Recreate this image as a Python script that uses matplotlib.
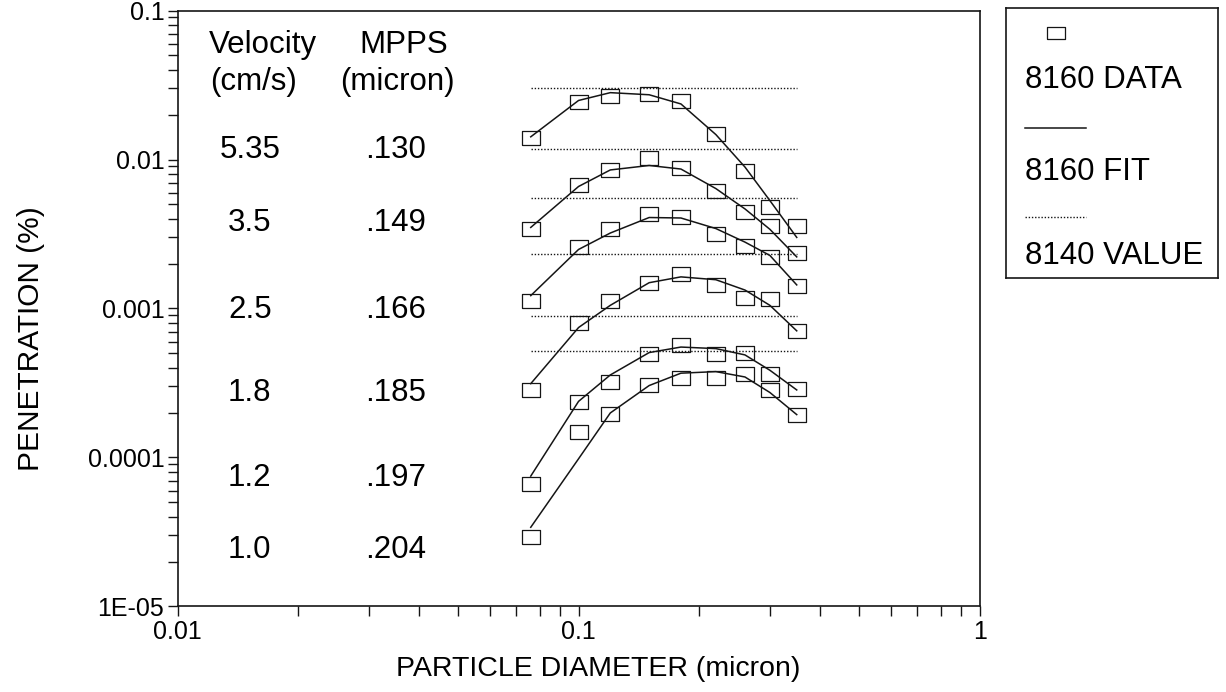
import matplotlib
matplotlib.use('Agg')
import matplotlib.pyplot as plt
from matplotlib.ticker import LogLocator, NullFormatter, FixedLocator, FixedFormatter

plt.rcParams['font.family'] = ['Liberation Sans', 'DejaVu Sans']

# ---------------- data ----------------
diam = [0.076, 0.10, 0.12, 0.15, 0.18, 0.22, 0.26, 0.30, 0.35]

pen_535 = [0.0140, 0.0245, 0.0267, 0.0277, 0.0247, 0.0149, 0.0084, 0.0048, 0.0036]
fit_535 = [0.0142, 0.0249, 0.0281, 0.0272, 0.0236, 0.0147, 0.0089, 0.0053, 0.0030]
pen_35 = [0.00344, 0.00679, 0.00851, 0.0102, 0.00877, 0.0061, 0.00445, 0.00356, 0.00237]
fit_35 = [0.0035, 0.00659, 0.00851, 0.00912, 0.00863, 0.00638, 0.00466, 0.0034, 0.00222]
pen_25 = [0.00113, 0.00257, 0.00342, 0.00428, 0.00411, 0.00318, 0.00262, 0.0022, 0.00142]
fit_25 = [0.00122, 0.00249, 0.00321, 0.00408, 0.00405, 0.00344, 0.00279, 0.00227, 0.00144]
pen_18 = [0.000284, 0.000805, 0.00112, 0.00149, 0.0017, 0.00143, 0.00118, 0.00115, 0.000708]
fit_18 = [0.000313, 0.000745, 0.00105, 0.00149, 0.00163, 0.00156, 0.00133, 0.00105, 0.000708]
pen_12 = [6.65e-5, 0.000234, 0.000321, 0.000498, 0.000568, 0.000498, 0.000502, 0.000361, 0.000289]
fit_12 = [7.5e-5, 0.000238, 0.000358, 0.000506, 0.000551, 0.000538, 0.000488, 0.000385, 0.000284]
pen_10 = [2.94e-5, 0.000149, 0.000196, 0.000308, 0.000341, 0.000339, 0.000363, 0.000282, 0.000194]
fit_10 = [3.4e-5, 9.8e-5, 0.000199, 0.000304, 0.000368, 0.000377, 0.000347, 0.000273, 0.000194]
val_8140 = [0.0303, 0.0118, 0.00555, 0.00233, 0.000896, 0.000521]

velocity = ["5.35", "3.5", "2.5", "1.8", "1.2", "1.0"]
mpps = [".130", ".149", ".166", ".185", ".197", ".204"]

x_ticks = [0.01, 0.1, 1]
x_tick_labels = ["0.01", "0.1", "1"]
y_ticks = [1e-5, 1e-4, 1e-3, 1e-2, 1e-1]
y_tick_labels = ["1E-05", "0.0001", "0.001", "0.01", "0.1"]

legend_labels = ["8160 DATA", "8160 FIT", "8140 VALUE"]

# ---------------- figure ----------------
fig = plt.figure(figsize=(12.26, 6.92), dpi=100)
ax = fig.add_axes([0.1448, 0.1236, 0.6542, 0.8612])

rect = [(-1, -0.78), (1, -0.78), (1, 0.78), (-1, 0.78), (-1, -0.78)]
ink = '#151515'

series_pen = [pen_535, pen_35, pen_25, pen_18, pen_12, pen_10]
series_fit = [fit_535, fit_35, fit_25, fit_18, fit_12, fit_10]
for pen, fit in zip(series_pen, series_fit):
    ax.plot(diam, fit, '-', color=ink, lw=1.1, zorder=2)
    ax.plot(diam, pen, linestyle='none', marker=rect, ms=13, mfc='none',
            mec=ink, mew=0.9, zorder=3)
ax.hlines(val_8140, diam[0], diam[-1], colors=ink, linestyles=(0, (1, 1.3)),
          lw=1.0, zorder=1)

ax.set_xscale('log')
ax.set_yscale('log')
ax.set_xlim(0.01, 1)
ax.set_ylim(1e-5, 0.1)
ax.xaxis.set_major_locator(FixedLocator(x_ticks))
ax.xaxis.set_major_formatter(FixedFormatter(x_tick_labels))
ax.yaxis.set_major_locator(FixedLocator(y_ticks))
ax.yaxis.set_major_formatter(FixedFormatter(y_tick_labels))
ax.xaxis.set_minor_locator(LogLocator(base=10, subs=range(2, 10)))
ax.yaxis.set_minor_locator(LogLocator(base=10, subs=range(2, 10)))
ax.xaxis.set_minor_formatter(NullFormatter())
ax.yaxis.set_minor_formatter(NullFormatter())
ax.tick_params(which='both', direction='out', length=7.5, width=1.0,
               color=ink, labelsize=18, pad=2, top=False, right=False)
for s in ax.spines.values():
    s.set_linewidth(1.2)
    s.set_color(ink)

ax.set_xlabel('PARTICLE DIAMETER (micron)', fontsize=20.5)
ax.xaxis.set_label_coords(0.524, -0.083)
ax.set_ylabel('PENETRATION (%)', fontsize=21.5)
ax.yaxis.set_label_coords(-0.165, 0.45)

# table text
tfs = 22.5
ax.text(0.107, 0.942, "Velocity", transform=ax.transAxes, fontsize=tfs,
        ha='center', va='center')
ax.text(0.2825, 0.942, "MPPS", transform=ax.transAxes, fontsize=tfs,
        ha='center', va='center')
ax.text(0.095, 0.880, "(cm/s)", transform=ax.transAxes, fontsize=tfs,
        ha='center', va='center')
ax.text(0.274, 0.880, "(micron)", transform=ax.transAxes, fontsize=tfs,
        ha='center', va='center')
row_y = [0.766, 0.643, 0.497, 0.358, 0.216, 0.094]
for yy, v, m in zip(row_y, velocity, mpps):
    ax.text(0.09, yy, v, transform=ax.transAxes, fontsize=tfs, ha='center', va='center')
    ax.text(0.272, yy, m, transform=ax.transAxes, fontsize=tfs, ha='center', va='center')

# legend box
lax = fig.add_axes([0.8206, 0.5983, 0.1730, 0.3902])
lax.set_xlim(0, 1)
lax.set_ylim(0, 1)
lax.set_xticks([])
lax.set_yticks([])
for s in lax.spines.values():
    s.set_linewidth(1.2)
    s.set_color(ink)
lax.plot([0.234], [0.907], linestyle='none',
         marker=[(-1, -0.68), (1, -0.68), (1, 0.68), (-1, 0.68), (-1, -0.68)],
         ms=13, mfc='none', mec=ink, mew=0.9)
lax.text(0.089, 0.733, legend_labels[0], fontsize=22.5, ha='left', va='center')
lax.plot([0.089, 0.379], [0.556, 0.556], '-', color=ink, lw=1.1)
lax.text(0.089, 0.393, legend_labels[1], fontsize=22.5, ha='left', va='center')
lax.plot([0.089, 0.379], [0.226, 0.226], color=ink, lw=1.0, linestyle=(0, (1, 1.3)))
lax.text(0.089, 0.082, legend_labels[2], fontsize=22.5, ha='left', va='center')

fig.savefig('out.png', dpi=100)
